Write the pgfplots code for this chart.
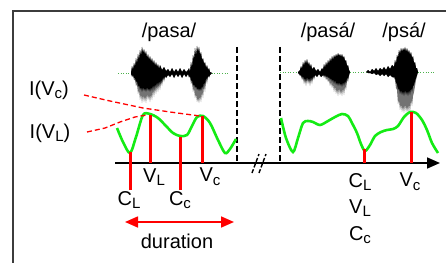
\documentclass[border=0pt]{standalone}
\usepackage{pgfplots}
\pgfplotsset{compat=1.18}
\usepackage{fontspec}
\setmainfont{Liberation Sans}
\usetikzlibrary{arrows.meta}
\definecolor{wgreen}{RGB}{20,235,20}
\definecolor{wred}{RGB}{255,0,0}
\definecolor{frame}{RGB}{60,60,60}
\newcommand\sub[1]{\raisebox{-0.35ex}{\fontsize{15}{15}\selectfont #1}}
\tikzset{lbl/.style={font=\fontsize{20}{22}\selectfont, inner sep=0pt, anchor=center}}
\begin{document}
\begin{tikzpicture}
\begin{axis}[
  width=446pt, height=262pt, scale only axis,
  xmin=0, xmax=446, ymin=0, ymax=262, y dir=reverse,
  axis lines=none, ticks=none, clip=true,
]
% bounding
\addplot[draw=none] coordinates {(0,0) (446,262)};
% frame
\addplot[frame, line width=2.6pt] coordinates {(13,270) (13,11) (450,11)};

% waveform baselines
\addplot[gray!60!green, line width=0.6pt, dotted] coordinates {(118,73) (228,73)};
\addplot[gray!60!green, line width=0.6pt, dotted] coordinates {(280,72) (435,72)};

% /pasa/ waveform (gray full envelope)
\addplot[fill=black!55, draw=none] coordinates {
(131,73)(132,66)(133,70)(134,63)(135,67)(136,58)(137,64)(138,54)(139,60)(140,50)(141,56)(142,47)(143,53)(144,49)(145,55)(146,51)(147,58)(148,54)(149,60)(150,56)(151,62)(152,58)(153,64)(154,60)(155,66)(156,62)(157,67)(158,64)(159,69)(160,65)(162,70)(164,67)(166,71)
(168,69)(170,72)(172,68)(174,72)(176,69)(178,72)(180,68)(182,72)(184,69)(186,72)(188,70)
(189,68)(190,72)(191,62)(192,68)(193,55)(194,60)(195,48)(196,56)(197,46)(198,52)(199,47)(200,55)(201,52)(202,60)(203,58)(204,64)(205,62)(206,68)(207,65)(208,70)(209,68)(210,72)(212,73)
(210,75)(209,78)(208,76)(207,84)(206,80)(205,92)(204,86)(203,98)(202,92)(201,102)(200,96)(199,103)(198,98)(197,102)(196,94)(195,98)(194,88)(193,92)(192,82)(191,84)(190,76)(189,78)(188,74)(186,77)(184,74)(182,78)(180,74)(178,77)(176,74)(174,78)(172,74)(170,77)(168,75)(166,78)(165,76)(164,82)(163,78)(162,86)(161,82)(160,90)(159,84)(158,92)(157,86)(156,94)(155,88)(154,97)(153,90)(152,100)(151,94)(150,102)(149,95)(148,100)(147,94)(146,103)(145,96)(144,102)(143,95)(142,103)(141,94)(140,100)(139,90)(138,94)(137,84)(136,86)(135,80)(134,80)(133,76)(132,77)(131,74)};
% /pasa/ waveform (black core)
\addplot[fill=black, draw=none] coordinates {
(131,73)(132,66)(133,70)(134,63)(135,67)(136,58)(137,64)(138,54)(139,60)(140,50)(141,56)(142,47)(143,53)(144,49)(145,55)(146,51)(147,58)(148,54)(149,60)(150,56)(151,62)(152,58)(153,64)(154,60)(155,66)(156,62)(157,67)(158,64)(159,69)(160,65)(162,70)(164,67)(166,71)
(168,69)(170,72)(172,68)(174,72)(176,69)(178,72)(180,68)(182,72)(184,69)(186,72)(188,70)
(189,68)(190,72)(191,62)(192,68)(193,55)(194,60)(195,48)(196,56)(197,46)(198,52)(199,47)(200,55)(201,52)(202,60)(203,58)(204,64)(205,62)(206,68)(207,65)(208,70)(209,68)(210,72)(212,73)
(210,75)(209,77)(208,76)(207,80)(206,78)(205,86)(204,82)(203,89)(202,86)(201,91)(200,88)(199,91)(198,88)(197,90)(196,86)(195,88)(194,84)(193,86)(192,80)(191,81)(190,76)(189,77)(188,74)(186,77)(184,74)(182,78)(180,74)(178,77)(176,74)(174,78)(172,74)(170,77)(168,75)(166,78)(165,76)(164,80)(163,77)(162,83)(161,80)(160,85)(159,81)(158,87)(157,82)(156,88)(155,84)(154,90)(153,85)(152,91)(151,87)(150,92)(149,88)(148,91)(147,87)(146,92)(145,88)(144,91)(143,87)(142,92)(141,87)(140,90)(139,85)(138,87)(137,81)(136,82)(135,78)(134,78)(133,75)(132,76)(131,74)};

% /pasá/ waveform
\addplot[fill=black!55, draw=none] coordinates {
(298,72)(300,70)(301,66)(302,69)(303,62)(304,66)(305,60)(306,64)(307,59)(308,65)(309,62)(310,67)(311,64)(312,69)(314,67)(316,71)(318,69)(320,72)(322,68)(323,70)(324,64)(325,68)(326,62)(327,66)(328,60)(329,64)(330,58)(331,62)(332,56)(333,60)(334,55)(335,58)(336,54)(337,57)(338,53)(339,56)(340,54)(341,57)(342,54)(343,58)(344,56)(345,61)(346,60)(347,66)(348,65)(349,70)(350,72)
(349,76)(348,82)(347,80)(346,90)(345,86)(344,95)(343,88)(342,96)(341,90)(340,95)(339,88)(338,96)(337,89)(336,94)(335,86)(334,92)(333,84)(332,88)(331,82)(330,86)(329,80)(328,82)(327,78)(326,80)(325,76)(324,78)(323,75)(321,77)(319,74)(317,77)(315,75)(314,80)(313,77)(312,84)(311,79)(310,86)(309,80)(308,84)(307,79)(306,86)(305,80)(304,84)(303,78)(302,80)(301,76)(300,76)(298,73)};
\addplot[fill=black, draw=none] coordinates {
(298,72)(300,70)(301,66)(302,69)(303,62)(304,66)(305,60)(306,64)(307,59)(308,65)(309,62)(310,67)(311,64)(312,69)(314,67)(316,71)(318,69)(320,72)(322,68)(323,70)(324,64)(325,68)(326,62)(327,66)(328,60)(329,64)(330,58)(331,62)(332,56)(333,60)(334,55)(335,58)(336,54)(337,57)(338,53)(339,56)(340,54)(341,57)(342,54)(343,58)(344,56)(345,61)(346,60)(347,66)(348,65)(349,70)(350,72)
(349,75)(348,79)(347,78)(346,84)(345,81)(344,86)(343,82)(342,87)(341,83)(340,86)(339,82)(338,86)(337,82)(336,85)(335,80)(334,84)(333,79)(332,82)(331,78)(330,80)(329,77)(328,78)(327,76)(326,77)(325,75)(324,76)(323,75)(321,77)(319,74)(317,77)(315,75)(314,78)(313,76)(312,81)(311,77)(310,82)(309,78)(308,81)(307,77)(306,82)(305,78)(304,80)(303,76)(302,78)(301,75)(300,75)(298,73)};

% /psá/ waveform
\addplot[fill=black!55, draw=none] coordinates {
(366,72)(368,70)(370,72)(372,69)(374,71)(376,68)(378,71)(380,68)(382,70)(384,67)(386,70)(388,66)(390,69)(392,65)(394,67)(395,60)(396,64)(397,55)(398,58)(399,50)(400,54)(401,48)(402,52)(403,48)(404,51)(405,47)(406,52)(407,48)(408,53)(409,50)(410,55)(411,52)(412,58)(413,56)(414,63)(415,62)(416,68)(417,68)(418,72)
(417,76)(416,80)(415,86)(414,92)(413,96)(412,106)(411,100)(410,112)(409,104)(408,113)(407,106)(406,112)(405,104)(404,113)(403,106)(402,112)(401,104)(400,110)(399,100)(398,104)(397,90)(396,88)(395,80)(394,78)(392,77)(390,75)(388,77)(386,74)(384,76)(382,74)(380,76)(378,74)(376,75)(374,73)(372,74)(370,73)(368,73)(366,72)};
\addplot[fill=black, draw=none] coordinates {
(366,72)(368,70)(370,72)(372,69)(374,71)(376,68)(378,71)(380,68)(382,70)(384,67)(386,70)(388,66)(390,69)(392,65)(394,67)(395,60)(396,64)(397,55)(398,58)(399,50)(400,54)(401,48)(402,52)(403,48)(404,51)(405,47)(406,52)(407,48)(408,53)(409,50)(410,55)(411,52)(412,58)(413,56)(414,63)(415,62)(416,68)(417,68)(418,72)
(417,75)(416,78)(415,81)(414,85)(413,86)(412,92)(411,88)(410,95)(409,90)(408,96)(407,91)(406,95)(405,90)(404,96)(403,91)(402,95)(401,90)(400,94)(399,88)(398,90)(397,84)(396,83)(395,78)(394,77)(392,77)(390,75)(388,77)(386,74)(384,76)(382,74)(380,76)(378,74)(376,75)(374,73)(372,74)(370,73)(368,73)(366,72)};

% dashed separators
\addplot[black, line width=1.5pt, dash pattern=on 6pt off 3pt] coordinates {(237,47) (237,163)};
\addplot[black, line width=1.5pt, dash pattern=on 6pt off 3pt] coordinates {(280,47) (280,163)};

% green intensity contours
\addplot[wgreen, line width=2.6pt, smooth, tension=0.5] coordinates {
(117,128) (123,142) (130,153) (136,137) (143,115) (150,114) (158,118) (166,126) (173,133) (180,136) (187,135) (192,126) (197,117) (203,116) (210,123) (218,140) (225,153) (230,149) (236,139)};
\addplot[wgreen, line width=2.6pt, smooth, tension=0.5] coordinates {
(281,118) (286,138) (293,152) (298,138) (303,123) (308,121) (313,122) (320,125) (328,121) (335,117) (342,114) (348,116) (352,123) (357,133) (361,144) (365,151) (370,145) (375,136) (381,132) (387,130) (393,129) (398,126) (404,117) (410,112) (416,113) (422,120) (427,130) (432,143) (438,153)};

% time axis
\addplot[black, line width=1.6pt, -{Triangle[length=13pt, width=11pt]}] coordinates {(115,163) (440,163)};
% break marks
\addplot[black, line width=1.4pt, dash pattern=on 4pt off 2pt] coordinates {(252,173) (259,154)};
\addplot[black, line width=1.4pt, dash pattern=on 4pt off 2pt] coordinates {(259,173) (266,154)};

% red markers
\addplot[wred, line width=3pt] coordinates {(130,152) (130,190)};
\addplot[wred, line width=3pt] coordinates {(150,115) (150,163)};
\addplot[wred, line width=3pt] coordinates {(180,137) (180,190)};
\addplot[wred, line width=3pt] coordinates {(202,116) (202,163)};
\addplot[wred, line width=3pt] coordinates {(364,149) (364,163)};
\addplot[wred, line width=3pt] coordinates {(411,112) (411,163)};

% red dashed pointers
\addplot[wred, line width=1.3pt, dash pattern=on 5pt off 3pt] coordinates {(84,95) (110,101) (143,108) (170,112) (200,116)};
\addplot[wred, line width=1.3pt, dash pattern=on 5pt off 3pt] coordinates {(87,132) (105,128) (120,122) (135,117) (147,115)};

% duration arrow
\addplot[wred, line width=1.6pt, {Triangle[length=13pt, width=11pt]}-{Triangle[length=13pt, width=11pt]}] coordinates {(125,222) (234,222)};

% texts
\node[lbl] at (axis cs:169,32) {/pasa/};
\node[lbl] at (axis cs:328,32) {/pasá/};
\node[lbl] at (axis cs:404,32) {/psá/};
\node[lbl] at (axis cs:49,90) {I(V\sub{c})};
\node[lbl] at (axis cs:50,133) {I(V\sub{L})};
\node[lbl] at (axis cs:129,200) {C\sub{L}};
\node[lbl] at (axis cs:154,177) {V\sub{L}};
\node[lbl] at (axis cs:180,200) {C\sub{c}};
\node[lbl] at (axis cs:210,177) {V\sub{c}};
\node[lbl] at (axis cs:177,241) {duration};
\node[lbl] at (axis cs:360,182) {C\sub{L}};
\node[lbl] at (axis cs:360,208) {V\sub{L}};
\node[lbl] at (axis cs:360,235) {C\sub{c}};
\node[lbl] at (axis cs:410,182) {V\sub{c}};
\end{axis}
\end{tikzpicture}
\end{document}
